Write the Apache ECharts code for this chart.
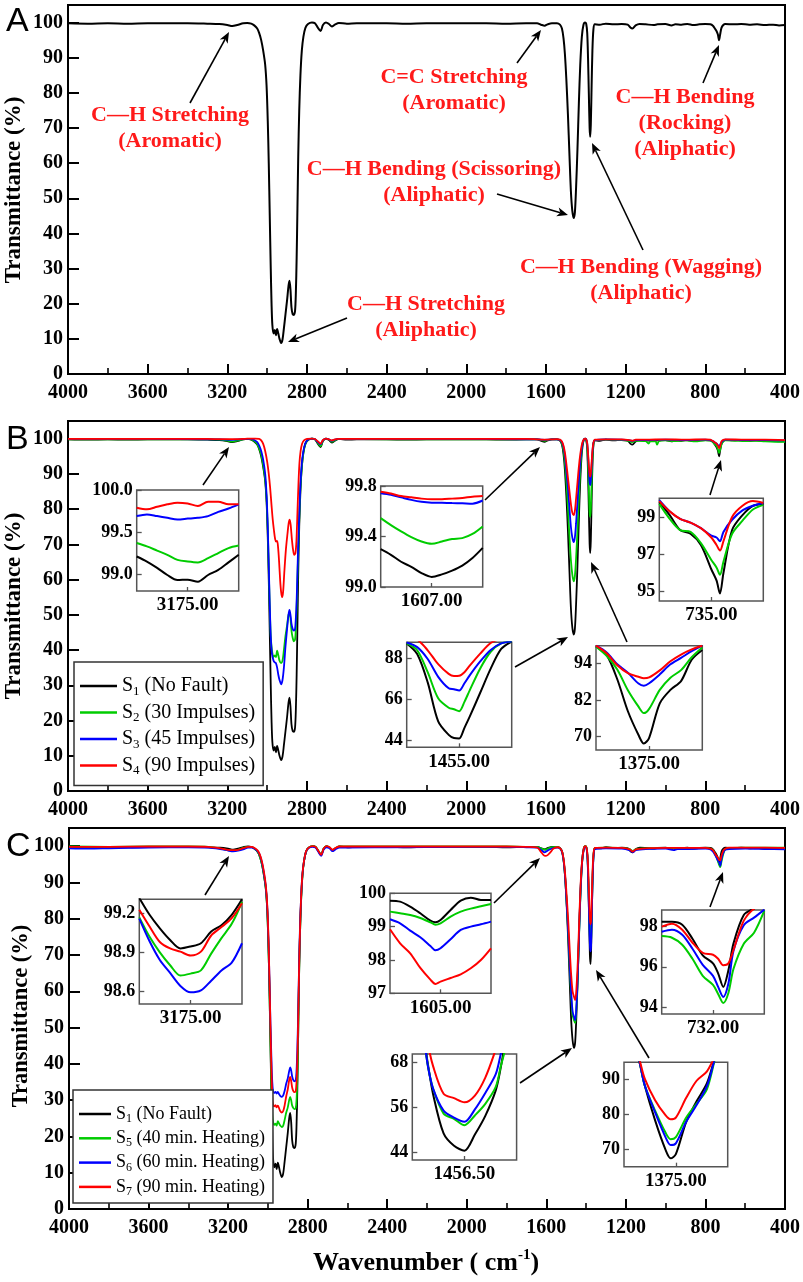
<!DOCTYPE html>
<html>
<head>
<meta charset="utf-8">
<script src="https://cdn.jsdelivr.net/npm/echarts@6/dist/echarts.min.js"></script>
<style>
  html, body { margin: 0; padding: 0; background: #fff; }
  #chart { width: 803px; height: 1282px; }
</style>
</head>
<body>
<div id="chart"></div>
<script>
// ---- series names ----
const namesB = ['S1 (No Fault)', 'S2 (30 Impulses)', 'S3 (45 Impulses)', 'S4 (90 Impulses)'];
const namesC = ['S1 (No Fault)', 'S5 (40 min. Heating)', 'S6 (60 min. Heating)', 'S7 (90 min. Heating)'];

// ---- full spectra [wavenumber, transmittance %] ----
const s1Main = [
  [4000, 99.8], [3900, 99.7], [3800, 99.8], [3700, 99.7], [3600, 99.8], [3500, 99.8], [3400, 99.8], [3300, 99.7],
  [3240, 99.6], [3200, 99.3], [3175, 99.0], [3150, 99.3], [3120, 99.8], [3100, 99.9], [3080, 99.7], [3065, 99.2],
  [3050, 98.3], [3040, 97], [3030, 95], [3020, 92], [3010, 88], [3003, 82], [2997, 72], [2992, 60], [2987, 45],
  [2982, 30], [2978, 20], [2974, 14], [2968, 11.5], [2962, 12.5], [2956, 11], [2950, 12.8], [2944, 11.5], [2938, 10],
  [2930, 8.8], [2923, 9.8], [2916, 13], [2908, 17], [2900, 21], [2893, 25], [2888, 26.5], [2883, 24], [2878, 19],
  [2872, 17], [2866, 16.8], [2860, 18], [2856, 23], [2852, 33], [2848, 47], [2844, 62], [2839, 75], [2833, 85],
  [2826, 92], [2818, 96], [2808, 98.5], [2795, 99.6], [2775, 100], [2760, 99.8], [2745, 98.5], [2732, 97.6],
  [2720, 99.3], [2705, 100], [2690, 99.6], [2675, 98.9], [2660, 99.4], [2640, 99.9], [2600, 99.7], [2550, 99.8],
  [2500, 99.8], [2400, 99.8], [2300, 99.7], [2200, 99.8], [2100, 99.8], [2000, 99.8], [1900, 99.8], [1800, 99.7],
  [1700, 99.8], [1645, 99.8], [1625, 99.4], [1607, 99.1], [1592, 99.5], [1570, 99.8], [1545, 99.8], [1530, 99.4],
  [1520, 98.3], [1512, 95.5], [1505, 91], [1498, 84], [1490, 74], [1482, 62], [1475, 52], [1468, 46.5], [1461, 44.4],
  [1455, 46], [1449, 53], [1442, 64], [1435, 77], [1428, 88], [1420, 96], [1412, 99.3], [1404, 100], [1398, 99.6],
  [1393, 97], [1389, 90], [1385, 80], [1381, 70], [1378, 67.5], [1375, 71], [1371, 82], [1367, 92], [1362, 98],
  [1355, 99.5], [1330, 99.4], [1300, 99.7], [1260, 99.5], [1220, 99.6], [1190, 99.4], [1175, 98.5], [1166, 98.3],
  [1150, 99.2], [1130, 99.6], [1100, 99.5], [1060, 99.3], [1040, 99.5], [1000, 99.6], [970, 99.2], [950, 99.5],
  [920, 99.4], [890, 99.6], [860, 99.3], [830, 99.5], [800, 99.6], [775, 99.5], [762, 99.1], [752, 98.3],
  [744, 97.6], [737, 96.6], [731, 95.0], [726, 96.5], [719, 98.5], [710, 99.3], [700, 99.6], [660, 99.5],
  [620, 99.6], [580, 99.4], [540, 99.5], [500, 99.3], [460, 99.4], [430, 99.2], [400, 99.3]
];

const s2Main = [
  [4000, 99.8], [3600, 99.8], [3300, 99.8], [3240, 99.7], [3200, 99.4], [3175, 99.15], [3150, 99.4], [3120, 99.8],
  [3100, 99.9], [3080, 99.8], [3065, 99.3], [3050, 98.5], [3040, 97.2], [3030, 95.5], [3020, 92.5], [3010, 88.5],
  [3003, 83], [2997, 74], [2992, 63], [2987, 52], [2982, 44], [2976, 40], [2968, 38], [2962, 38.5], [2956, 38],
  [2950, 39.8], [2944, 38.5], [2938, 37], [2930, 36.3], [2923, 37], [2916, 40], [2908, 44], [2900, 47], [2893, 50],
  [2888, 50.5], [2883, 49], [2878, 45.5], [2872, 43.5], [2866, 42.5], [2860, 43], [2856, 46], [2852, 52], [2848, 60],
  [2844, 68], [2839, 77], [2833, 86], [2826, 92], [2818, 96], [2808, 98.5], [2795, 99.6], [2775, 100], [2760, 99.8],
  [2745, 98.7], [2732, 97.8], [2720, 99.4], [2705, 100], [2690, 99.7], [2675, 99.1], [2660, 99.5], [2640, 99.9],
  [2400, 99.8], [2000, 99.8], [1700, 99.8], [1645, 99.8], [1625, 99.55], [1607, 99.35], [1592, 99.6], [1570, 99.8],
  [1545, 99.8], [1530, 99.5], [1520, 98.6], [1512, 96.5], [1505, 93], [1498, 88], [1490, 80.5], [1482, 72],
  [1475, 65.5], [1468, 61.5], [1461, 59.5], [1455, 61], [1449, 66], [1442, 74], [1435, 83], [1428, 91], [1420, 97],
  [1412, 99.4], [1404, 100], [1398, 99.7], [1393, 97.5], [1389, 92.5], [1385, 86], [1381, 79], [1378, 77.8],
  [1375, 80], [1371, 87], [1367, 94], [1362, 98.3], [1355, 99.5], [1300, 99.7], [1220, 99.6], [1180, 99.3],
  [1166, 99.0], [1150, 99.4], [1100, 99.3], [1085, 98.6], [1075, 99.3], [1050, 99.2], [1042, 98.3], [1033, 99.3],
  [1000, 99.5], [960, 99.3], [900, 99.5], [850, 99.2], [800, 99.5], [775, 99.4], [762, 99.0], [752, 98.3],
  [744, 98.0], [737, 97.0], [731, 95.9], [726, 96.8], [719, 98.3], [710, 99.2], [700, 99.5], [650, 99.4],
  [600, 99.3], [550, 99.4], [500, 99.2], [450, 99.1], [400, 99.1]
];

const s3Main = [
  [4000, 99.9], [3600, 99.9], [3300, 99.8], [3240, 99.8], [3175, 99.66], [3120, 99.85], [3100, 99.9], [3080, 99.9],
  [3065, 99.6], [3050, 99.0], [3040, 98.0], [3030, 96.5], [3020, 94], [3010, 90], [3003, 84], [2997, 75], [2992, 64],
  [2987, 53], [2982, 44], [2976, 39], [2968, 37], [2962, 36.5], [2956, 36.3], [2950, 35], [2944, 33], [2938, 31.5],
  [2930, 30.3], [2923, 31.5], [2916, 35], [2908, 41], [2900, 46], [2893, 50], [2888, 51.4], [2883, 50], [2878, 47.5],
  [2872, 46], [2866, 45.5], [2860, 46], [2856, 49], [2852, 54], [2848, 62], [2844, 70], [2839, 78], [2833, 87],
  [2826, 93], [2818, 96.5], [2808, 98.7], [2795, 99.7], [2775, 100], [2760, 99.8], [2745, 99.0], [2732, 98.4],
  [2720, 99.5], [2705, 100], [2690, 99.8], [2675, 99.4], [2660, 99.7], [2640, 99.9], [2400, 99.9], [2000, 99.9],
  [1700, 99.8], [1645, 99.8], [1625, 99.72], [1607, 99.67], [1592, 99.7], [1570, 99.8], [1545, 99.8], [1530, 99.6],
  [1520, 99.0], [1512, 97.5], [1505, 95], [1498, 91], [1490, 86], [1482, 80], [1475, 75], [1468, 72], [1461, 70.6],
  [1455, 72], [1449, 76], [1442, 82], [1435, 88], [1428, 93.5], [1420, 97.5], [1412, 99.5], [1404, 100],
  [1398, 99.8], [1393, 98.5], [1389, 95.5], [1385, 91], [1381, 87.5], [1378, 86.8], [1375, 88], [1371, 92],
  [1367, 96], [1362, 98.8], [1355, 99.6], [1300, 99.8], [1220, 99.7], [1180, 99.5], [1166, 99.3], [1150, 99.6],
  [1100, 99.6], [1000, 99.7], [900, 99.6], [800, 99.7], [775, 99.6], [762, 99.3], [752, 98.9], [744, 98.6],
  [737, 98.2], [731, 97.7], [726, 98.2], [719, 99.0], [710, 99.5], [700, 99.7], [600, 99.6], [500, 99.6], [400, 99.5]
];

const s4Main = [
  [4000, 99.9], [3600, 99.9], [3300, 99.9], [3240, 99.85], [3175, 99.84], [3120, 99.9], [3100, 100], [3060, 100],
  [3040, 99.9], [3030, 99.5], [3020, 98.5], [3010, 96.5], [3000, 93.5], [2992, 90], [2985, 86], [2978, 81],
  [2972, 77], [2966, 74], [2960, 71.5], [2955, 70.8], [2950, 71], [2945, 69], [2940, 65], [2935, 60], [2930, 56.5],
  [2925, 55], [2920, 56.5], [2914, 62], [2906, 68.5], [2898, 73], [2892, 76], [2887, 77], [2882, 75.5], [2876, 71.5],
  [2870, 68.5], [2864, 67], [2858, 67.5], [2853, 71], [2848, 79], [2843, 87], [2838, 93], [2832, 96.5], [2825, 98.5],
  [2815, 99.5], [2800, 99.9], [2775, 100], [2760, 99.9], [2745, 99.2], [2732, 98.6], [2720, 99.6], [2705, 100],
  [2690, 99.8], [2675, 99.5], [2660, 99.8], [2640, 99.9], [2400, 99.9], [2000, 99.9], [1700, 99.9], [1645, 99.8],
  [1625, 99.74], [1607, 99.7], [1592, 99.72], [1570, 99.8], [1545, 99.85], [1530, 99.7], [1520, 99.2], [1512, 98],
  [1505, 96], [1498, 93], [1490, 89], [1482, 85], [1475, 81.5], [1468, 79], [1461, 78.3], [1455, 79.5], [1449, 83],
  [1442, 87.5], [1435, 92], [1428, 95.5], [1420, 98.3], [1412, 99.6], [1404, 100], [1398, 99.8], [1393, 98.8],
  [1389, 96], [1385, 92.5], [1381, 89.8], [1378, 89.2], [1375, 90.2], [1371, 93.2], [1367, 96.5], [1362, 98.8],
  [1355, 99.7], [1300, 99.8], [1220, 99.8], [1180, 99.6], [1166, 99.4], [1150, 99.7], [1100, 99.7], [1000, 99.8],
  [900, 99.7], [800, 99.8], [775, 99.7], [762, 99.3], [752, 98.9], [744, 98.6], [737, 98.0], [731, 97.3],
  [726, 97.8], [719, 99.2], [710, 99.7], [700, 99.8], [600, 99.7], [500, 99.7], [400, 99.6]
];

const s5Main = [
  [4000, 99.9], [3800, 99.8], [3600, 99.9], [3400, 99.9], [3300, 99.8], [3240, 99.3], [3200, 98.9], [3175, 98.73],
  [3150, 99.0], [3120, 99.6], [3100, 99.8], [3080, 99.7], [3065, 99.2], [3050, 98.3], [3040, 97], [3030, 95],
  [3020, 92], [3010, 88], [3003, 82], [2997, 72], [2992, 60], [2987, 46], [2982, 33], [2978, 26], [2974, 24],
  [2968, 23.2], [2962, 23.5], [2956, 23], [2950, 24.2], [2944, 23.6], [2938, 23], [2930, 22.6], [2923, 23],
  [2916, 24.5], [2908, 26.5], [2900, 28], [2893, 30], [2888, 30.9], [2883, 30], [2878, 28.5], [2872, 27.8],
  [2866, 27.5], [2860, 27.8], [2856, 30], [2852, 36], [2848, 47], [2844, 62], [2839, 75], [2833, 85], [2826, 92],
  [2818, 96], [2808, 98.5], [2795, 99.6], [2775, 100], [2760, 99.8], [2745, 98.6], [2732, 97.7], [2720, 99.3],
  [2705, 100], [2690, 99.6], [2675, 98.9], [2660, 99.4], [2640, 99.9], [2400, 99.9], [2000, 99.9], [1800, 99.9],
  [1700, 99.8], [1645, 99.8], [1625, 99.35], [1605, 99.0], [1590, 99.4], [1570, 99.7], [1545, 99.8], [1530, 99.4],
  [1520, 98.3], [1512, 95.5], [1505, 91], [1498, 84.5], [1490, 76], [1482, 66], [1475, 58.5], [1468, 53.5],
  [1461, 52], [1455, 51.2], [1449, 55], [1442, 64], [1435, 76], [1428, 87], [1420, 95.5], [1412, 99.2], [1404, 100],
  [1398, 99.6], [1393, 97], [1389, 91], [1385, 82], [1381, 75], [1378, 73], [1375, 74], [1371, 83], [1367, 92],
  [1362, 98], [1355, 99.5], [1300, 99.6], [1220, 99.5], [1180, 99.2], [1166, 98.6], [1150, 99.2], [1100, 99.4],
  [1000, 99.5], [900, 99.4], [800, 99.5], [775, 99.3], [762, 98.9], [752, 97.8], [744, 96.9], [737, 95.8],
  [731, 94.8], [726, 94.2], [719, 95.8], [710, 97.9], [700, 99.1], [680, 99.5], [600, 99.6], [500, 99.6], [400, 99.6]
];

const s6Main = [
  [4000, 99.4], [3900, 99.3], [3800, 99.4], [3700, 99.5], [3600, 99.6], [3400, 99.7], [3300, 99.6], [3240, 99.2],
  [3200, 98.8], [3175, 98.59], [3150, 98.75], [3120, 99.2], [3100, 99.6], [3080, 99.6], [3065, 99.2], [3050, 98.5],
  [3040, 97.5], [3030, 95.5], [3020, 92.5], [3010, 88.5], [3003, 83], [2997, 74], [2992, 63], [2987, 51], [2982, 41],
  [2978, 35], [2974, 32.5], [2968, 32], [2962, 32.3], [2956, 31.8], [2950, 32.3], [2944, 31.7], [2938, 31.2],
  [2930, 30.9], [2923, 31.3], [2916, 32.5], [2908, 34.5], [2900, 36], [2893, 38], [2888, 39], [2883, 38.2],
  [2878, 36.5], [2872, 35.5], [2866, 35.2], [2860, 35.5], [2856, 38], [2852, 44], [2848, 53], [2844, 65], [2839, 77],
  [2833, 86], [2826, 92.5], [2818, 96], [2808, 98.5], [2795, 99.5], [2775, 99.8], [2760, 99.6], [2745, 98.3],
  [2732, 97.3], [2720, 99.0], [2705, 99.7], [2690, 99.4], [2675, 98.6], [2660, 99.1], [2640, 99.6], [2400, 99.7],
  [2000, 99.8], [1800, 99.8], [1700, 99.7], [1645, 99.6], [1625, 98.9], [1608, 98.3], [1590, 98.9], [1570, 99.4],
  [1545, 99.6], [1530, 99.3], [1520, 98.2], [1512, 95.5], [1505, 91], [1498, 84.5], [1490, 76.5], [1482, 67],
  [1475, 59.5], [1468, 54.5], [1461, 53], [1455, 52], [1449, 55.5], [1442, 64.5], [1435, 76.5], [1428, 87.5],
  [1420, 95.5], [1412, 99.0], [1404, 99.8], [1398, 99.4], [1393, 96.5], [1389, 90], [1385, 80.5], [1381, 73],
  [1378, 71], [1375, 72.5], [1371, 82], [1367, 91.5], [1362, 97.5], [1355, 99.2], [1300, 99.4], [1220, 99.3],
  [1180, 98.8], [1166, 98.3], [1150, 98.9], [1100, 99.2], [1000, 99.3], [960, 98.9], [940, 99.2], [900, 99.2],
  [800, 99.3], [775, 99.1], [762, 98.5], [752, 97.6], [744, 96.8], [737, 96.0], [731, 95.5], [726, 94.6],
  [719, 96.5], [710, 98.2], [700, 99.0], [680, 99.2], [600, 99.3], [500, 99.2], [400, 99.1]
];

const s7Main = [
  [4000, 99.8], [3800, 99.8], [3600, 99.9], [3400, 99.9], [3300, 99.8], [3240, 99.4], [3200, 99.0], [3175, 98.88],
  [3150, 99.0], [3120, 99.5], [3100, 99.8], [3080, 99.8], [3065, 99.4], [3050, 98.7], [3040, 97.6], [3030, 95.8],
  [3020, 93], [3010, 89], [3003, 83.5], [2997, 74.5], [2992, 63], [2987, 50], [2982, 38], [2978, 31], [2974, 28.8],
  [2968, 28.3], [2962, 28.6], [2956, 28], [2950, 28.5], [2944, 27.8], [2938, 27], [2930, 26.6], [2923, 27],
  [2916, 28.5], [2908, 31], [2900, 33], [2893, 35.5], [2888, 36.4], [2883, 35.3], [2878, 33.5], [2872, 32.5],
  [2866, 32.2], [2860, 32.5], [2856, 35], [2852, 41], [2848, 51], [2844, 64], [2839, 76], [2833, 86], [2826, 92.5],
  [2818, 96], [2808, 98.6], [2795, 99.6], [2775, 100], [2760, 99.8], [2745, 98.6], [2732, 97.6], [2720, 99.3],
  [2705, 100], [2690, 99.7], [2675, 99.0], [2660, 99.5], [2640, 99.9], [2400, 99.9], [2000, 99.9], [1800, 99.9],
  [1700, 99.8], [1645, 99.6], [1628, 98.5], [1615, 97.6], [1605, 97.3], [1592, 97.6], [1578, 98.4], [1565, 99.3],
  [1545, 99.7], [1530, 99.4], [1520, 98.4], [1512, 96], [1505, 92], [1498, 86.5], [1490, 79.5], [1482, 71],
  [1475, 64.5], [1468, 60], [1461, 58.5], [1455, 57.6], [1449, 60.5], [1442, 68], [1435, 79], [1428, 89], [1420, 96],
  [1412, 99.3], [1404, 100], [1398, 99.6], [1393, 97.5], [1389, 93], [1385, 86], [1381, 80], [1378, 78.5],
  [1375, 79.5], [1371, 86.5], [1367, 94], [1362, 98.3], [1355, 99.5], [1300, 99.6], [1220, 99.5], [1180, 99.1],
  [1166, 98.5], [1150, 99.1], [1100, 99.4], [1000, 99.5], [900, 99.5], [800, 99.5], [775, 99.3], [762, 98.9],
  [752, 98.0], [744, 97.3], [737, 96.8], [731, 96.2], [726, 96.1], [719, 97.5], [710, 98.8], [700, 99.3],
  [680, 99.6], [600, 99.6], [500, 99.6], [400, 99.5]
];

// ---- zoomed insets, panel B ----
const b3175X = [3235, 3223, 3211, 3199, 3187, 3175, 3163, 3151, 3139, 3127, 3115];
const b3175S1 = [99.21, 99.15, 99.075, 98.99, 98.93, 98.935, 98.91, 98.99, 99.05, 99.14, 99.23];
const b3175S2 = [99.37, 99.33, 99.28, 99.23, 99.17, 99.15, 99.14, 99.19, 99.25, 99.31, 99.34];
const b3175S3 = [99.69, 99.71, 99.69, 99.67, 99.65, 99.66, 99.67, 99.69, 99.74, 99.78, 99.83];
const b3175S4 = [99.79, 99.77, 99.8, 99.83, 99.85, 99.84, 99.81, 99.86, 99.86, 99.83, 99.83];
const b3175Ticks = [99.0, 99.5, 100.0];

const b1607X = [1637, 1631, 1625, 1619, 1613, 1607, 1601, 1595, 1589, 1583, 1577];
const b1607S1 = [99.3, 99.255, 99.2, 99.16, 99.11, 99.08, 99.1, 99.13, 99.17, 99.23, 99.31];
const b1607S2 = [99.545, 99.49, 99.44, 99.395, 99.36, 99.342, 99.36, 99.38, 99.387, 99.42, 99.48];
const b1607S3 = [99.742, 99.73, 99.71, 99.69, 99.675, 99.668, 99.667, 99.665, 99.663, 99.66, 99.685];
const b1607S4 = [99.755, 99.74, 99.72, 99.71, 99.7, 99.695, 99.695, 99.7, 99.705, 99.715, 99.72];
const b1607Ticks = [99.0, 99.4, 99.8];

const b1455X = [1490, 1483, 1476, 1469, 1462, 1458.5, 1455, 1451.5, 1448, 1441, 1434, 1427, 1420];
const b1455S1 = [96, 90.3, 75, 54, 46.7, 45.0, 44.8, 50.5, 56.5, 69.4, 82.4, 93, 97];
const b1455S2 = [96, 92.3, 80.5, 66.4, 61.3, 60.5, 59.5, 64.5, 70.7, 82.5, 91.5, 96, 97];
const b1455S3 = [96.5, 94, 87.6, 78, 71.8, 71.3, 70.6, 74.5, 78.8, 86.3, 92.5, 96, 97];
const b1455S4 = [99, 98, 92.3, 84.8, 79.6, 78.5, 78.6, 80.5, 84, 90.5, 96.2, 98.5, 99];
const b1455Ticks = [44, 66, 88];

const b1375X = [1405, 1399, 1393, 1387, 1381, 1378, 1375, 1369, 1363, 1357, 1351, 1345];
const b1375S1 = [99.6, 96.8, 88.8, 78.3, 70.5, 67.7, 69.6, 80.9, 85.3, 88.2, 95.2, 98.4];
const b1375S2 = [99.5, 96.5, 92, 85.2, 79.8, 77.7, 79.1, 85.3, 89.3, 91.8, 96, 99.2];
const b1375S3 = [99.8, 97.6, 93.7, 90.9, 87.4, 86.7, 87.5, 90.4, 93.7, 95.8, 98, 99.8];
const b1375S4 = [99.8, 97.3, 93.4, 90.8, 89.6, 89.1, 89.4, 91.7, 94.7, 96.9, 98.6, 99.8];
const b1375Ticks = [70, 82, 94];

const b735X = [765, 759, 753, 747, 741, 735, 732, 730, 728, 723, 717, 711, 705];
const b735S1 = [99.8, 99.1, 98.3, 98.1, 97.5, 96.2, 95.6, 94.9, 96.0, 98.3, 99.1, 99.6, 99.7];
const b735S2 = [99.7, 98.9, 98.3, 98.2, 97.6, 96.7, 96.3, 95.9, 96.6, 98.1, 98.8, 99.4, 99.65];
const b735S3 = [99.9, 99.3, 98.9, 98.7, 98.4, 98.0, 97.9, 97.7, 98.2, 98.85, 99.35, 99.6, 99.75];
const b735S4 = [99.85, 99.3, 98.9, 98.7, 98.4, 97.9, 97.5, 97.2, 97.7, 99.0, 99.6, 99.85, 99.75];
const b735Ticks = [95, 97, 99];

// ---- zoomed insets, panel C ----
const c3175X = [3235, 3223, 3211, 3199, 3187, 3175, 3163, 3151, 3139, 3127, 3115];
const c3175S1 = [99.32, 99.19, 99.085, 98.995, 98.93, 98.945, 98.97, 99.06, 99.11, 99.19, 99.31];
const c3175S5 = [99.17, 99.02, 98.9, 98.8, 98.72, 98.735, 98.76, 98.89, 99.01, 99.12, 99.29];
const c3175S6 = [99.16, 98.985, 98.84, 98.74, 98.64, 98.59, 98.605, 98.68, 98.76, 98.82, 98.97];
const c3175S7 = [99.23, 99.1, 98.98, 98.93, 98.905, 98.875, 98.905, 99.03, 99.095, 99.165, 99.28];
const c3175Ticks = [98.6, 98.9, 99.2];

const c1605X = [1635, 1629, 1623, 1617, 1611, 1608, 1605, 1599, 1593, 1587, 1581, 1575];
const c1605S1 = [99.78, 99.75, 99.6, 99.4, 99.18, 99.13, 99.2, 99.5, 99.78, 99.87, 99.8, 99.8];
const c1605S5 = [99.45, 99.4, 99.35, 99.26, 99.13, 99.06, 99.1, 99.3, 99.45, 99.54, 99.61, 99.68];
const c1605S6 = [99.22, 99.1, 98.88, 98.68, 98.42, 98.29, 98.35, 98.62, 98.9, 99.0, 99.07, 99.15];
const c1605S7 = [98.92, 98.5, 98.2, 97.76, 97.41, 97.28, 97.35, 97.46, 97.57, 97.75, 98.0, 98.35];
const c1605Ticks = [97, 98, 99, 100];

const c1456X = [1486.5, 1480.5, 1477.5, 1474.5, 1468.5, 1462.5, 1456.5, 1450.5, 1444.5, 1438.5, 1435.5, 1432.5, 1426.5];
const c1456S1 = [85, 76, 67.5, 59.5, 49.1, 45.8, 44.5, 48.8, 53.8, 60.6, 67, 75, 90];
const c1456S5 = [85, 76, 67, 61, 54.4, 53.0, 51.3, 53.9, 57.0, 61.5, 67.2, 72.5, 85];
const c1456S6 = [85, 76, 67, 61, 55.2, 53.3, 52.2, 55.5, 59.9, 64.9, 70.5, 76, 88];
const c1456S7 = [95, 82, 73, 67, 59.7, 58.5, 57.4, 59.2, 64, 71.5, 76, 80, 90];
const c1456Ticks = [44, 56, 68];

const c1375X = [1405, 1399, 1396, 1393, 1387, 1381, 1378, 1375, 1369, 1363, 1357, 1351, 1345];
const c1375S1 = [108, 100, 94.9, 88.2, 78.2, 69.8, 67.3, 68.5, 77.8, 83.7, 88.9, 98, 103];
const c1375S5 = [108, 100, 94.9, 88.3, 81, 74.7, 72.8, 73.4, 79, 83, 87.2, 98, 103];
const c1375S6 = [108, 100, 94.9, 88.3, 80.5, 73.4, 71.1, 71.6, 77.8, 82.6, 88.1, 98, 103];
const c1375S7 = [108, 100, 95.5, 90.2, 84, 79.7, 78.5, 79, 84.7, 89.6, 92.3, 98, 103];
const c1375Ticks = [70, 80, 90];

const c732X = [762, 756, 750, 744, 738, 732, 729, 726, 723, 720, 714, 708, 702];
const c732S1 = [98.25, 98.25, 98.1, 97.4, 96.57, 96.17, 95.67, 95.0, 95.83, 97.17, 98.58, 98.9, 99.1];
const c732S5 = [97.53, 97.45, 97.1, 96.4, 95.55, 95.1, 94.65, 94.2, 94.7, 95.9, 97.15, 97.7, 98.8];
const c732S6 = [97.75, 97.85, 97.6, 96.9, 96.1, 95.55, 95.0, 94.5, 95.17, 96.8, 98.07, 98.45, 98.85];
const c732S7 = [98.0, 98.15, 97.85, 97.2, 96.7, 96.6, 96.4, 96.08, 96.17, 96.85, 98.3, 98.9, 99.1];
const c732Ticks = [94, 96, 98];

// ---- styling ----
const SERIF = 'Liberation Serif';
const COLORS = ['#000000', '#00cc00', '#0000ff', '#ff0000'];
const RED_TEXT = '#ff1a1a';

const mainGrids = [
  { left: 68, top: 5, width: 718, height: 369 },
  { left: 68, top: 421, width: 718, height: 370 },
  { left: 69, top: 828, width: 719, height: 381 }
];

const insets = [
  { names: namesB, box: [136.7, 490, 102, 101], y: [98.8, 100], x: b3175X, ys: [b3175S1, b3175S2, b3175S3, b3175S4], ticks: b3175Ticks, dec: 1, center: 3175 },
  { names: namesB, box: [380.7, 486, 102, 101], y: [99.0, 99.8], x: b1607X, ys: [b1607S1, b1607S2, b1607S3, b1607S4], ticks: b1607Ticks, dec: 1, center: 1607 },
  { names: namesB, box: [406.7, 642.3, 105, 105], y: [40, 96.6], x: b1455X, ys: [b1455S1, b1455S2, b1455S3, b1455S4], ticks: b1455Ticks, dec: 0, center: 1455 },
  { names: namesB, box: [596, 645.7, 106.3, 104.3], y: [65.6, 99.8], x: b1375X, ys: [b1375S1, b1375S2, b1375S3, b1375S4], ticks: b1375Ticks, dec: 0, center: 1375 },
  { names: namesB, box: [659.3, 498.3, 104, 102.7], y: [94.5, 100], x: b735X, ys: [b735S1, b735S2, b735S3, b735S4], ticks: b735Ticks, dec: 0, center: 735 },
  { names: namesC, box: [139.3, 899.3, 102.7, 104.7], y: [98.5, 99.31], x: c3175X, ys: [c3175S1, c3175S5, c3175S6, c3175S7], ticks: c3175Ticks, dec: 1, center: 3175 },
  { names: namesC, box: [390, 893.3, 101, 100], y: [97, 100], x: c1605X, ys: [c1605S1, c1605S5, c1605S6, c1605S7], ticks: c1605Ticks, dec: 0, center: 1605 },
  { names: namesC, box: [412.3, 1054, 104.3, 106], y: [42, 70.3], x: c1456X, ys: [c1456S1, c1456S5, c1456S6, c1456S7], ticks: c1456Ticks, dec: 0, center: 1456.5 },
  { names: namesC, box: [624, 1062.3, 103.7, 104.4], y: [64.9, 94.9], x: c1375X, ys: [c1375S1, c1375S5, c1375S6, c1375S7], ticks: c1375Ticks, dec: 0, center: 1375 },
  { names: namesC, box: [661.7, 910, 102.6, 104], y: [93.65, 98.83], x: c732X, ys: [c732S1, c732S5, c732S6, c732S7], ticks: c732Ticks, dec: 0, center: 732 }
];

// arrows: [tailX, tailY, tipX, tipY]
const arrows = [
  [190, 103, 229, 32], [347, 318, 288, 342], [517, 63, 541, 30], [497, 194, 568, 215], [643, 250, 592, 143], [703, 83, 719, 45],
  [203, 485, 229, 447], [485, 500, 540, 447], [515, 667, 568, 637], [627, 642, 591, 562], [710, 495, 721, 460],
  [205, 895, 229, 856], [494, 903, 540, 858], [520, 1083, 572, 1048], [649, 1058, 596, 970], [710, 907, 723, 872]
];

// band labels in panel A: [centerX, firstLineY, lines]
const bandLabels = [
  [170, 115, ['C\u2014H Stretching', '(Aromatic)']],
  [426, 304, ['C\u2014H Stretching', '(Aliphatic)']],
  [454, 77, ['C=C Stretching', '(Aromatic)']],
  [434, 169, ['C\u2014H Bending (Scissoring)', '(Aliphatic)']],
  [641, 267, ['C\u2014H Bending (Wagging)', '(Aliphatic)']],
  [685, 97, ['C\u2014H Bending', '(Rocking)', '(Aliphatic)']]
];

const chart = echarts.init(document.getElementById('chart'), null, { renderer: 'canvas' });

const grids = [];
const xAxes = [];
const yAxes = [];
const series = [];

function line(name, data, color, idx, width) {
  return {
    type: 'line', name: name, data: data, xAxisIndex: idx, yAxisIndex: idx,
    symbol: 'none', showSymbol: false, smooth: 0.3, clip: true, silent: true,
    lineStyle: { color: color, width: width }, itemStyle: { color: color }
  };
}

mainGrids.forEach((g, i) => {
  grids.push(Object.assign({ show: true, borderColor: '#000', borderWidth: 2 }, g));
  xAxes.push({
    type: 'value', gridIndex: i, min: 400, max: 4000, interval: 400, inverse: true,
    axisLine: { lineStyle: { color: '#000', width: 2 } },
    axisTick: { inside: true, length: 10, lineStyle: { color: '#000', width: 2 } },
    minorTick: { show: true, splitNumber: 2, length: 6, lineStyle: { color: '#000', width: 1.6 } },
    axisLabel: { formatter: v => String(v), color: '#000', fontFamily: SERIF, fontWeight: 'bold', fontSize: 20, margin: 9 },
    splitLine: { show: false }
  });
  yAxes.push({
    type: 'value', gridIndex: i, min: 0, max: 105, interval: 10,
    axisLine: { show: true, lineStyle: { color: '#000', width: 2 } },
    axisTick: { show: true, inside: true, length: 11, lineStyle: { color: '#000', width: 2 } },
    axisLabel: { formatter: v => String(v), color: '#000', fontFamily: SERIF, fontWeight: 'bold', fontSize: 20, margin: 5, showMaxLabel: false },
    splitLine: { show: false }
  });
});

series.push(line(namesB[0], s1Main, COLORS[0], 0, 2));
[s1Main, s2Main, s3Main, s4Main].forEach((d, i) => series.push(line(namesB[i], d, COLORS[i], 1, 1.8)));
[s1Main, s5Main, s6Main, s7Main].forEach((d, i) => series.push(line(namesC[i], d, COLORS[i], 2, 1.8)));

insets.forEach((ins, k) => {
  const idx = 3 + k;
  grids.push({
    left: ins.box[0], top: ins.box[1], width: ins.box[2], height: ins.box[3],
    show: true, borderColor: '#555', borderWidth: 1.5, backgroundColor: '#fff'
  });
  xAxes.push({
    type: 'value', gridIndex: idx, inverse: true,
    min: ins.x[ins.x.length - 1], max: ins.x[0],
    axisLine: { show: false },
    axisTick: { show: true, inside: true, length: 4, customValues: [ins.center], lineStyle: { color: '#555', width: 1.3 } },
    axisLabel: { customValues: [ins.center], formatter: v => v.toFixed(2), color: '#000', fontFamily: SERIF, fontWeight: 'bold', fontSize: 19, margin: 5 },
    splitLine: { show: false }
  });
  yAxes.push({
    type: 'value', gridIndex: idx, min: ins.y[0], max: ins.y[1],
    axisLine: { show: false },
    axisTick: { show: true, inside: true, length: 5, customValues: ins.ticks, lineStyle: { color: '#555', width: 1.3 } },
    axisLabel: { customValues: ins.ticks, formatter: v => v.toFixed(ins.dec), color: '#000', fontFamily: SERIF, fontWeight: 'bold', fontSize: 18, margin: 4 },
    splitLine: { show: false }
  });
  ins.ys.forEach((ys, i) => {
    series.push(line(ins.names[i], ins.x.map((x, j) => [x, ys[j]]), COLORS[i], idx, 2));
  });
});

// graphic annotations
const graphic = [];
function arrow(x1, y1, x2, y2) {
  const dx = x2 - x1, dy = y2 - y1, len = Math.sqrt(dx * dx + dy * dy);
  const ux = dx / len, uy = dy / len, nx = -uy, ny = ux;
  const L = 11, W = 4.5;
  graphic.push({ type: 'line', z: 100, shape: { x1: x1, y1: y1, x2: x2 - ux * (L - 3), y2: y2 - uy * (L - 3) }, style: { stroke: '#000', lineWidth: 1.6 } });
  graphic.push({
    type: 'polygon', z: 100,
    shape: { points: [[x2, y2], [x2 - ux * L + nx * W, y2 - uy * L + ny * W], [x2 - ux * (L - 3), y2 - uy * (L - 3)], [x2 - ux * L - nx * W, y2 - uy * L - ny * W]] },
    style: { fill: '#000' }
  });
}
arrows.forEach(a => arrow(a[0], a[1], a[2], a[3]));

bandLabels.forEach(b => {
  b[2].forEach((t, i) => {
    graphic.push({
      type: 'text', z: 100, x: b[0], y: b[1] + i * 26.3,
      style: { text: t, fill: RED_TEXT, font: 'bold 22px "Liberation Serif"', align: 'center', verticalAlign: 'middle' }
    });
  });
});

[['A', 6, 22], ['B', 6, 440], ['C', 6, 847]].forEach(p => {
  graphic.push({ type: 'text', z: 100, x: p[1], y: p[2], style: { text: p[0], fill: '#000', font: '34px "Liberation Sans"', align: 'left', verticalAlign: 'middle' } });
});

[[14, 190, 23], [14, 606, 23], [21, 1016, 22.5]].forEach(p => {
  graphic.push({
    type: 'text', z: 100, x: p[0], y: p[1], rotation: Math.PI / 2,
    style: { text: 'Transmittance (%)', fill: '#000', font: 'bold ' + p[2] + 'px "Liberation Serif"', align: 'center', verticalAlign: 'middle' }
  });
});

graphic.push({
  type: 'text', z: 100, x: 426, y: 1263,
  style: {
    text: '{a|Wavenumber ( cm}{s|-1}{a|)}', fill: '#000', align: 'center', verticalAlign: 'middle',
    rich: {
      a: { fontFamily: SERIF, fontWeight: 'bold', fontSize: 26, lineHeight: 30, fill: '#000' },
      s: { fontFamily: SERIF, fontWeight: 'bold', fontSize: 15, lineHeight: 15, padding: [0, 0, 15, 0], fill: '#000' }
    }
  }
});

function legendText(name) {
  const m = name.match(/^S(\d+)(.*)$/);
  return '{a|S}{b|' + m[1] + '}{a|' + m[2] + '}';
}

const legends = [
  {
    data: namesB, left: 74, top: 662, itemWidth: 37, fs: 20, sub: 13, lh: 24, gap: 2.5, padding: [12, 8, 8, 6]
  },
  {
    data: namesC, left: 73, top: 1090, itemWidth: 32, fs: 18, sub: 12, lh: 22, gap: 2.3, padding: [13, 8, 5, 6]
  }
].map(l => ({
  data: l.data, orient: 'vertical', left: l.left, top: l.top,
  itemWidth: l.itemWidth, itemHeight: 2.5, icon: 'rect', itemGap: l.gap,
  padding: l.padding, borderColor: '#333', borderWidth: 1.5, backgroundColor: '#fff',
  selectedMode: false, formatter: legendText,
  textStyle: {
    color: '#000',
    rich: {
      a: { fontFamily: SERIF, fontSize: l.fs, lineHeight: l.lh, color: '#000' },
      b: { fontFamily: SERIF, fontSize: l.sub, lineHeight: l.sub, padding: [l.lh - l.sub, 0, 0, 0], color: '#000' }
    }
  }
}));

chart.setOption({
  backgroundColor: '#ffffff',
  animation: false,
  grid: grids,
  xAxis: xAxes,
  yAxis: yAxes,
  legend: legends,
  series: series,
  graphic: graphic
});
</script>
</body>
</html>
